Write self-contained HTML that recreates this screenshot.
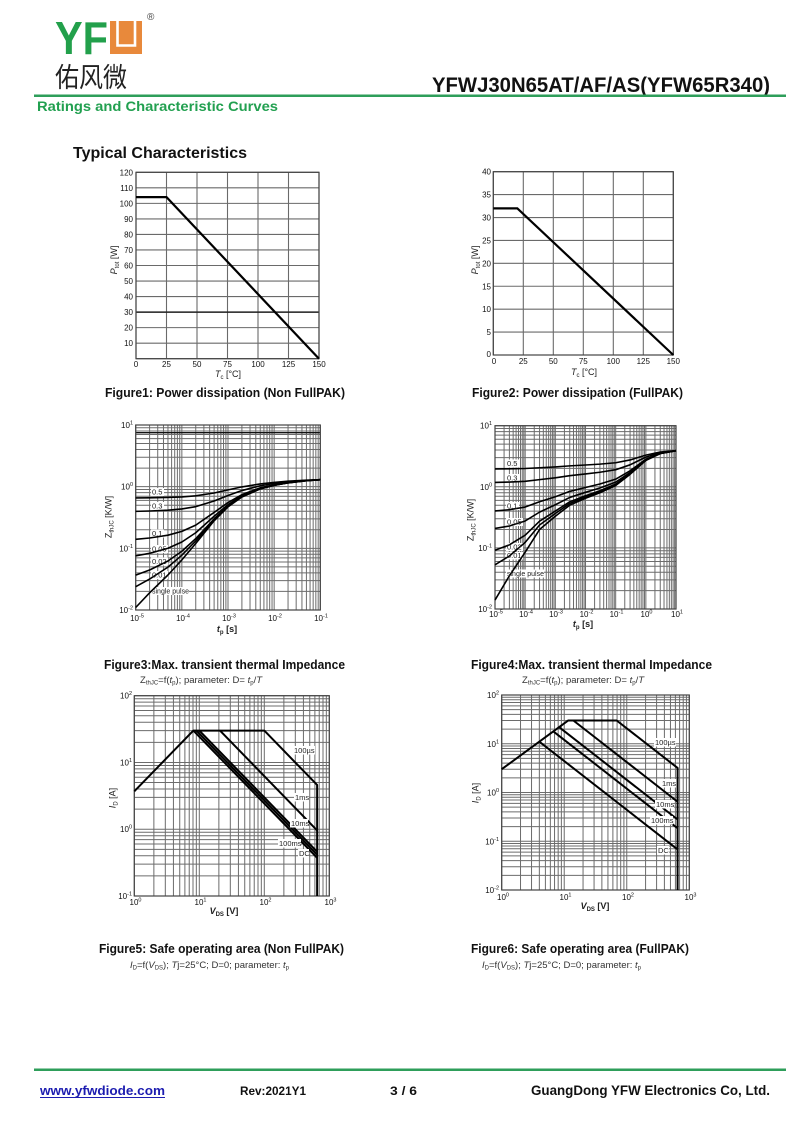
<!DOCTYPE html>
<html><head><meta charset="utf-8"><style>html,body{margin:0;padding:0;background:#fff}svg{display:block}</style></head>
<body>
<svg width="800" height="1131" viewBox="0 0 800 1131" xmlns="http://www.w3.org/2000/svg" font-family="Liberation Sans, Arial, sans-serif">
<rect width="800" height="1131" fill="#fff"/>

<!-- ===== HEADER ===== -->
<text x="55" y="54" font-size="46" font-weight="bold" fill="#22a04b" textLength="53" lengthAdjust="spacingAndGlyphs">YF</text>
<rect x="110" y="21" width="32" height="33" fill="#e8893b"/>
<path d="M117.5,21V45.5H135V21" fill="none" stroke="#fff" stroke-width="2.6"/>
<text x="147" y="20" font-size="10" fill="#444">®</text>
<text x="55" y="87" font-size="27" fill="#222" font-family="Liberation Sans, Noto Sans CJK SC, sans-serif" textLength="72" lengthAdjust="spacingAndGlyphs">佑风微</text>
<text x="432" y="92" font-size="21" font-weight="bold" fill="#111" textLength="338" lengthAdjust="spacingAndGlyphs">YFWJ30N65AT/AF/AS(YFW65R340)</text>
<rect x="34" y="94.5" width="752" height="2.5" fill="#2e9e5a"/>
<text x="37" y="111" font-size="13.5" font-weight="bold" fill="#22a050" textLength="241" lengthAdjust="spacingAndGlyphs">Ratings and Characteristic Curves</text>
<text x="73" y="158" font-size="16" font-weight="bold" fill="#111" textLength="174" lengthAdjust="spacingAndGlyphs">Typical Characteristics</text>

<!-- ===== FIGURE 1 ===== -->
<g fill="none" stroke="#6a6a6a" stroke-width="1.1">
<path d="M136,172.3v186.4m30.5,-186.4v186.4m30.5,-186.4v186.4m30.5,-186.4v186.4m30.5,-186.4v186.4m30.5,-186.4v186.4m30.5,-186.4v186.4"/>
<path d="M136,358.7h183m-183,-15.533h183m-183,-15.533h183m-183,-15.533h183m-183,-15.533h183m-183,-15.533h183m-183,-15.533h183m-183,-15.533h183m-183,-15.533h183m-183,-15.533h183m-183,-15.533h183m-183,-15.533h183m-183,-15.533h183"/>
</g>
<line x1="136" y1="312.1" x2="319" y2="312.1" stroke="#222" stroke-width="1.5"/>
<rect x="136" y="172.3" width="183" height="186.4" fill="none" stroke="#444" stroke-width="1.2"/>
<polyline points="136,197.15 166.5,197.15 319,358.7" fill="none" stroke="#000" stroke-width="2.2"/>
<g font-size="8" fill="#111" text-anchor="end">
<text x="133" y="346.2">10</text><text x="133" y="330.6">20</text><text x="133" y="315.1">30</text><text x="133" y="299.6">40</text><text x="133" y="284">50</text><text x="133" y="268.5">60</text><text x="133" y="253">70</text><text x="133" y="237.4">80</text><text x="133" y="221.9">90</text><text x="133" y="206.4">100</text><text x="133" y="190.8">110</text><text x="133" y="175.3">120</text>
</g>
<g font-size="8" fill="#111" text-anchor="middle">
<text x="136" y="367">0</text><text x="166.5" y="367">25</text><text x="197" y="367">50</text><text x="227.5" y="367">75</text><text x="258" y="367">100</text><text x="288.5" y="367">125</text><text x="319" y="367">150</text>
</g>
<text transform="rotate(-90 117 260)" x="117" y="260" font-size="9" fill="#222" text-anchor="middle"><tspan font-style="italic">P</tspan><tspan font-size="6" dy="2">tot</tspan><tspan dy="-2"> [W]</tspan></text>
<text x="228" y="377" font-size="9" fill="#222" text-anchor="middle"><tspan font-style="italic">T</tspan><tspan font-size="6" dy="2">c</tspan><tspan dy="-2"> [°C]</tspan></text>
<text x="105" y="397" font-size="12.5" font-weight="bold" fill="#111" textLength="240" lengthAdjust="spacingAndGlyphs">Figure1: Power dissipation (Non FullPAK)</text>

<!-- ===== FIGURE 2 ===== -->
<g fill="none" stroke="#6a6a6a" stroke-width="1.1">
<path d="M493.3,171.7v183.3m30,-183.3v183.3m30,-183.3v183.3m30,-183.3v183.3m30,-183.3v183.3m30,-183.3v183.3m30,-183.3v183.3"/>
<path d="M493.3,355h180m-180,-22.9125h180m-180,-22.9125h180m-180,-22.9125h180m-180,-22.9125h180m-180,-22.9125h180m-180,-22.9125h180m-180,-22.9125h180m-180,-22.9125h180"/>
</g>
<rect x="493.3" y="171.7" width="180" height="183.3" fill="none" stroke="#444" stroke-width="1.2"/>
<polyline points="493.3,208.36 517.3,208.36 673.3,355" fill="none" stroke="#000" stroke-width="2.2"/>
<g font-size="8" fill="#111" text-anchor="end">
<text x="491" y="357">0</text><text x="491" y="335.1">5</text><text x="491" y="312.2">10</text><text x="491" y="289.3">15</text><text x="491" y="266.4">20</text><text x="491" y="243.4">25</text><text x="491" y="220.5">30</text><text x="491" y="197.6">35</text><text x="491" y="174.7">40</text>
</g>
<g font-size="8" fill="#111" text-anchor="middle">
<text x="494" y="364">0</text><text x="523.3" y="364">25</text><text x="553.3" y="364">50</text><text x="583.3" y="364">75</text><text x="613.3" y="364">100</text><text x="643.3" y="364">125</text><text x="673.3" y="364">150</text>
</g>
<text transform="rotate(-90 478 260)" x="478" y="260" font-size="9" fill="#222" text-anchor="middle"><tspan font-style="italic">P</tspan><tspan font-size="6" dy="2">tot</tspan><tspan dy="-2"> [W]</tspan></text>
<text x="584" y="375" font-size="9" fill="#222" text-anchor="middle"><tspan font-style="italic">T</tspan><tspan font-size="6" dy="2">c</tspan><tspan dy="-2"> [°C]</tspan></text>
<text x="472" y="397" font-size="12.5" font-weight="bold" fill="#111" textLength="211" lengthAdjust="spacingAndGlyphs">Figure2: Power dissipation (FullPAK)</text>

<!-- ===== FIGURE 3 ===== -->
<g fill="none" stroke="#6c6c6c" stroke-width="1">
<path d="M135.7,425v185m13.893,-185v185m8.127,-185v185m5.766,-185v185m4.472,-185v185m3.654,-185v185m3.09,-185v185m2.676,-185v185m2.361,-185v185m2.112,-185v185m13.893,-185v185m8.127,-185v185m5.766,-185v185m4.472,-185v185m3.654,-185v185m3.09,-185v185m2.676,-185v185m2.361,-185v185m2.112,-185v185m13.893,-185v185m8.127,-185v185m5.766,-185v185m4.472,-185v185m3.654,-185v185m3.09,-185v185m2.676,-185v185m2.361,-185v185m2.112,-185v185m13.893,-185v185m8.127,-185v185m5.766,-185v185m4.472,-185v185m3.654,-185v185m3.09,-185v185m2.676,-185v185m2.361,-185v185m2.112,-185v185"/>
<path d="M135.7,610h184.6m-184.6,-18.565h184.6m-184.6,-10.86h184.6m-184.6,-7.705h184.6m-184.6,-5.976h184.6m-184.6,-4.883h184.6m-184.6,-4.129h184.6m-184.6,-3.576h184.6m-184.6,-3.154h184.6m-184.6,-2.822h184.6m-184.6,-18.565h184.6m-184.6,-10.86h184.6m-184.6,-7.705h184.6m-184.6,-5.976h184.6m-184.6,-4.883h184.6m-184.6,-4.129h184.6m-184.6,-3.576h184.6m-184.6,-3.154h184.6m-184.6,-2.822h184.6m-184.6,-18.565h184.6m-184.6,-10.86h184.6m-184.6,-7.705h184.6m-184.6,-5.976h184.6m-184.6,-4.883h184.6m-184.6,-4.129h184.6m-184.6,-3.576h184.6m-184.6,-3.154h184.6m-184.6,-2.822h184.6"/>
</g>
<line x1="135.7" y1="432.7" x2="320.3" y2="432.7" stroke="#111" stroke-width="1.4"/>
<rect x="135.7" y="425" width="184.6" height="185" fill="none" stroke="#444" stroke-width="1.2"/>
<g fill="#fff">
<rect x="151" y="488" width="13" height="8"/><rect x="151" y="502" width="13" height="8"/><rect x="151" y="529.5" width="13" height="8"/><rect x="151" y="545" width="17" height="8"/><rect x="151" y="557.5" width="17" height="8"/><rect x="151" y="571" width="17" height="8"/><rect x="151" y="587" width="38" height="8"/>
</g>
<g fill="none" stroke="#000" stroke-width="1.6" stroke-linejoin="round">
<polyline points="135.7,497.98 149.6,497.8 167.96,497.45 181.85,496.9 195.74,495.8 214.11,493 228,489.9 241.89,486.9 260.26,483.9 274.15,482.4 288.04,481.2 306.41,480.2 320.3,479.7"/>
<polyline points="135.7,511.37 149.6,511 167.96,510.17 181.85,508.94 195.74,506.67 214.11,500.99 228,495.52 241.89,490.54 260.26,485.77 274.15,483.51 288.04,481.89 306.41,480.37 320.3,479.7"/>
<polyline points="135.7,539.35 149.6,538 167.96,535.2 181.85,531.36 195.74,525.11 214.11,512.44 228,502.54 241.89,494.66 260.26,487.82 274.15,484.73 288.04,482.58 306.41,480.58 320.3,479.7"/>
<polyline points="135.7,555.87 149.6,553.33 167.96,548.28 181.85,541.98 195.74,532.74 214.11,516.28 228,504.63 241.89,495.8 260.26,488.35 274.15,485.05 288.04,482.75 306.41,480.64 320.3,479.7"/>
<polyline points="135.7,575.12 149.6,569.97 167.96,561.01 181.85,551.25 195.74,538.65 214.11,518.88 228,505.96 241.89,496.52 260.26,488.69 274.15,485.23 288.04,482.86 306.41,480.67 320.3,479.7"/>
<polyline points="135.7,586.67 149.6,579.03 167.96,567.12 181.85,555.2 195.74,540.95 214.11,519.81 228,506.42 241.89,496.76 260.26,488.79 274.15,485.3 288.04,482.89 306.41,480.68 320.3,479.7"/>
<polyline points="135.7,607.5 149.6,592.8 167.96,575 181.85,559.9 195.74,543.5 214.11,520.8 228,506.9 241.89,497 260.26,488.9 274.15,485.4 288.04,482.9 306.41,480.7 320.3,479.7"/>
</g>
<g font-size="7.5" fill="#222">
<text x="152" y="494.5">0.5</text><text x="152" y="508.5">0.3</text><text x="152" y="536">0.1</text><text x="152" y="551.5">0.05</text><text x="152" y="564">0.02</text><text x="152" y="577.5">0.01</text><text x="152" y="593.5" font-size="7">single pulse</text>
</g>
<g font-size="8" fill="#111" text-anchor="end">
<text x="133" y="428">10<tspan font-size="5.5" dy="-3.5">1</tspan></text>
<text x="133" y="489.7">10<tspan font-size="5.5" dy="-3.5">0</tspan></text>
<text x="133" y="551.3">10<tspan font-size="5.5" dy="-3.5">-1</tspan></text>
<text x="133" y="613">10<tspan font-size="5.5" dy="-3.5">-2</tspan></text>
</g>
<g font-size="8" fill="#111" text-anchor="middle">
<text x="137" y="621">10<tspan font-size="5.5" dy="-3.5">-5</tspan></text>
<text x="183" y="621">10<tspan font-size="5.5" dy="-3.5">-4</tspan></text>
<text x="229" y="621">10<tspan font-size="5.5" dy="-3.5">-3</tspan></text>
<text x="275" y="621">10<tspan font-size="5.5" dy="-3.5">-2</tspan></text>
<text x="321" y="621">10<tspan font-size="5.5" dy="-3.5">-1</tspan></text>
</g>
<text transform="rotate(-90 111.5 517)" x="111.5" y="517" font-size="9" fill="#222" text-anchor="middle">Z<tspan font-size="6" dy="2">thJC</tspan><tspan dy="-2"> [K/W]</tspan></text>
<text x="227" y="632" font-size="9" fill="#222" text-anchor="middle" font-weight="bold"><tspan font-style="italic">t</tspan><tspan font-size="6" dy="2">p</tspan><tspan dy="-2"> [s]</tspan></text>
<text x="104" y="669" font-size="12.5" font-weight="bold" fill="#111" textLength="241" lengthAdjust="spacingAndGlyphs">Figure3:Max. transient thermal Impedance</text>
<text x="140" y="683" font-size="9.5" fill="#333">Z<tspan font-size="6" dy="1.5">thJC</tspan><tspan dy="-1.5">=f(</tspan><tspan font-style="italic">t</tspan><tspan font-size="6" dy="1.5">p</tspan><tspan dy="-1.5">); parameter: D= </tspan><tspan font-style="italic">t</tspan><tspan font-size="6" dy="1.5">p</tspan><tspan dy="-1.5">/</tspan><tspan font-style="italic">T</tspan></text>

<!-- ===== FIGURE 4 ===== -->
<g fill="none" stroke="#6c6c6c" stroke-width="1">
<path d="M495,425.7v183.3m9.082,-183.3v183.3m5.313,-183.3v183.3m3.769,-183.3v183.3m2.924,-183.3v183.3m2.389,-183.3v183.3m2.02,-183.3v183.3m1.75,-183.3v183.3m1.543,-183.3v183.3m1.381,-183.3v183.3m9.082,-183.3v183.3m5.313,-183.3v183.3m3.769,-183.3v183.3m2.924,-183.3v183.3m2.389,-183.3v183.3m2.02,-183.3v183.3m1.75,-183.3v183.3m1.543,-183.3v183.3m1.381,-183.3v183.3m9.082,-183.3v183.3m5.313,-183.3v183.3m3.769,-183.3v183.3m2.924,-183.3v183.3m2.389,-183.3v183.3m2.02,-183.3v183.3m1.75,-183.3v183.3m1.543,-183.3v183.3m1.381,-183.3v183.3m9.082,-183.3v183.3m5.313,-183.3v183.3m3.769,-183.3v183.3m2.924,-183.3v183.3m2.389,-183.3v183.3m2.02,-183.3v183.3m1.75,-183.3v183.3m1.543,-183.3v183.3m1.381,-183.3v183.3m9.082,-183.3v183.3m5.313,-183.3v183.3m3.769,-183.3v183.3m2.924,-183.3v183.3m2.389,-183.3v183.3m2.02,-183.3v183.3m1.75,-183.3v183.3m1.543,-183.3v183.3m1.381,-183.3v183.3m9.082,-183.3v183.3m5.313,-183.3v183.3m3.769,-183.3v183.3m2.924,-183.3v183.3m2.389,-183.3v183.3m2.02,-183.3v183.3m1.75,-183.3v183.3m1.543,-183.3v183.3m1.381,-183.3v183.3"/>
<path d="M495,609h181m-181,-18.393h181m-181,-10.759h181m-181,-7.634h181m-181,-5.921h181m-181,-4.838h181m-181,-4.091h181m-181,-3.543h181m-181,-3.125h181m-181,-2.796h181m-181,-18.393h181m-181,-10.759h181m-181,-7.634h181m-181,-5.921h181m-181,-4.838h181m-181,-4.091h181m-181,-3.543h181m-181,-3.125h181m-181,-2.796h181m-181,-18.393h181m-181,-10.759h181m-181,-7.634h181m-181,-5.921h181m-181,-4.838h181m-181,-4.091h181m-181,-3.543h181m-181,-3.125h181m-181,-2.796h181"/>
</g>
<rect x="495" y="425.7" width="181" height="183.3" fill="none" stroke="#444" stroke-width="1.2"/>
<g fill="#fff">
<rect x="506" y="459.5" width="13" height="8"/><rect x="506" y="474" width="13" height="8"/><rect x="506" y="502" width="13" height="8"/><rect x="506" y="518" width="17" height="8"/><rect x="506" y="543" width="17" height="8"/><rect x="506" y="552" width="17" height="7.5"/><rect x="506" y="569.5" width="38" height="8"/>
</g>
<g fill="none" stroke="#000" stroke-width="1.6" stroke-linejoin="round">
<polyline points="495,468.98 509.39,468.84 525.17,468.51 539.56,467.75 555.34,466.92 569.73,465.88 585.51,464.99 599.9,464.13 615.68,462.75 630.07,459.96 645.85,455.12 660.24,452.08 676,450.68"/>
<polyline points="495,482.41 509.39,482.08 525.17,481.32 539.56,479.63 555.34,477.85 569.73,475.69 585.51,473.91 599.9,472.26 615.68,469.7 630.07,464.82 645.85,457.12 660.24,452.66 676,450.68"/>
<polyline points="495,510.94 509.39,509.72 525.17,507.04 539.56,501.71 555.34,496.76 569.73,491.43 585.51,487.47 599.9,484.03 615.68,479.13 630.07,470.76 645.85,459.29 660.24,453.26 676,450.68"/>
<polyline points="495,528.43 509.39,526 525.17,520.98 539.56,512.13 555.34,504.74 569.73,497.43 585.51,492.31 599.9,488.02 615.68,482.13 630.07,472.48 645.85,459.86 660.24,453.41 676,450.68"/>
<polyline points="495,550.2 509.39,544.83 525.17,535.22 539.56,521.15 555.34,511.02 569.73,501.81 585.51,495.7 599.9,490.74 615.68,484.11 630.07,473.58 645.85,460.21 660.24,453.49 676,450.68"/>
<polyline points="495,564.79 509.39,556 525.17,542.36 539.56,525.01 555.34,513.49 569.73,503.45 585.51,496.94 599.9,491.71 615.68,484.8 630.07,473.95 645.85,460.33 660.24,453.52 676,450.68"/>
<polyline points="495,600.07 509.39,575.76 525.17,552.21 539.56,529.51 555.34,516.22 569.73,505.19 585.51,498.23 599.9,492.72 615.68,485.5 630.07,474.33 645.85,460.44 660.24,453.56 676,450.68"/>
</g>
<g font-size="7.5" fill="#222">
<text x="507" y="466">0.5</text><text x="507" y="480.5">0.3</text><text x="507" y="508.5">0.1</text><text x="507" y="524.5">0.05</text><text x="507" y="549.5">0.02</text><text x="507" y="558">0.01</text><text x="507" y="576" font-size="7">single pulse</text>
</g>
<g font-size="8" fill="#111" text-anchor="end">
<text x="492" y="428.7">10<tspan font-size="5.5" dy="-3.5">1</tspan></text>
<text x="492" y="489.8">10<tspan font-size="5.5" dy="-3.5">0</tspan></text>
<text x="492" y="550.9">10<tspan font-size="5.5" dy="-3.5">-1</tspan></text>
<text x="492" y="612">10<tspan font-size="5.5" dy="-3.5">-2</tspan></text>
</g>
<g font-size="8" fill="#111" text-anchor="middle">
<text x="496" y="617">10<tspan font-size="5.5" dy="-3.5">-5</tspan></text>
<text x="526" y="617">10<tspan font-size="5.5" dy="-3.5">-4</tspan></text>
<text x="556" y="617">10<tspan font-size="5.5" dy="-3.5">-3</tspan></text>
<text x="586.5" y="617">10<tspan font-size="5.5" dy="-3.5">-2</tspan></text>
<text x="616.5" y="617">10<tspan font-size="5.5" dy="-3.5">-1</tspan></text>
<text x="646.5" y="617">10<tspan font-size="5.5" dy="-3.5">0</tspan></text>
<text x="677" y="617">10<tspan font-size="5.5" dy="-3.5">1</tspan></text>
</g>
<text transform="rotate(-90 473.5 520)" x="473.5" y="520" font-size="9" fill="#222" text-anchor="middle">Z<tspan font-size="6" dy="2">thJC</tspan><tspan dy="-2"> [K/W]</tspan></text>
<text x="583" y="627" font-size="9" fill="#222" text-anchor="middle" font-weight="bold"><tspan font-style="italic">t</tspan><tspan font-size="6" dy="2">p</tspan><tspan dy="-2"> [s]</tspan></text>
<text x="471" y="669" font-size="12.5" font-weight="bold" fill="#111" textLength="241" lengthAdjust="spacingAndGlyphs">Figure4:Max. transient thermal Impedance</text>
<text x="522" y="683" font-size="9.5" fill="#333">Z<tspan font-size="6" dy="1.5">thJC</tspan><tspan dy="-1.5">=f(</tspan><tspan font-style="italic">t</tspan><tspan font-size="6" dy="1.5">p</tspan><tspan dy="-1.5">); parameter: D= </tspan><tspan font-style="italic">t</tspan><tspan font-size="6" dy="1.5">p</tspan><tspan dy="-1.5">/</tspan><tspan font-style="italic">T</tspan></text>

<!-- ===== FIGURE 5 ===== -->
<g fill="none" stroke="#6c6c6c" stroke-width="1">
<path d="M134.3,695.7v200.3m19.567,-200.3v200.3m11.446,-200.3v200.3m8.121,-200.3v200.3m6.299,-200.3v200.3m5.147,-200.3v200.3m4.352,-200.3v200.3m3.769,-200.3v200.3m3.325,-200.3v200.3m2.974,-200.3v200.3m19.567,-200.3v200.3m11.446,-200.3v200.3m8.121,-200.3v200.3m6.299,-200.3v200.3m5.147,-200.3v200.3m4.352,-200.3v200.3m3.769,-200.3v200.3m3.325,-200.3v200.3m2.974,-200.3v200.3m19.567,-200.3v200.3m11.446,-200.3v200.3m8.121,-200.3v200.3m6.299,-200.3v200.3m5.147,-200.3v200.3m4.352,-200.3v200.3m3.769,-200.3v200.3m3.325,-200.3v200.3m2.974,-200.3v200.3"/>
<path d="M134.3,896h195m-195,-20.1h195m-195,-11.758h195m-195,-8.342h195m-195,-6.471h195m-195,-5.287h195m-195,-4.47h195m-195,-3.872h195m-195,-3.415h195m-195,-3.055h195m-195,-20.1h195m-195,-11.758h195m-195,-8.342h195m-195,-6.471h195m-195,-5.287h195m-195,-4.47h195m-195,-3.872h195m-195,-3.415h195m-195,-3.055h195m-195,-20.1h195m-195,-11.758h195m-195,-8.342h195m-195,-6.471h195m-195,-5.287h195m-195,-4.47h195m-195,-3.872h195m-195,-3.415h195m-195,-3.055h195"/>
</g>
<rect x="134.3" y="695.7" width="195" height="200.3" fill="none" stroke="#444" stroke-width="1.2"/>
<g fill="none" stroke="#000" stroke-width="2" stroke-linejoin="round">
<polyline points="134.3,791.3 193.35,730.61 264.3,730.61 317.14,784.98 317.14,896"/>
<polyline points="219.98,730.61 317.14,830.42"/>
<polyline points="199.3,730.61 317.14,851.65"/>
<polyline points="196.33,730.61 317.14,854.72"/>
<polyline points="193.35,730.61 317.14,857.76"/>
</g>
<g fill="#fff">
<rect x="293" y="746" width="22" height="8.5"/><rect x="294" y="793" width="15" height="8.5"/><rect x="290" y="819" width="18" height="8.5"/><rect x="278" y="839" width="23" height="8.5"/><rect x="298" y="849" width="11" height="8.5"/>
</g>
<g font-size="7.5" fill="#222">
<text x="294" y="753">100µs</text><text x="295" y="800">1ms</text><text x="291" y="826">10ms</text><text x="279" y="846">100ms</text><text x="299" y="856">DC</text>
</g>
<g font-size="8" fill="#111" text-anchor="end">
<text x="132" y="698.7">10<tspan font-size="5.5" dy="-3.5">2</tspan></text>
<text x="132" y="765.5">10<tspan font-size="5.5" dy="-3.5">1</tspan></text>
<text x="132" y="832.2">10<tspan font-size="5.5" dy="-3.5">0</tspan></text>
<text x="132" y="899">10<tspan font-size="5.5" dy="-3.5">-1</tspan></text>
</g>
<g font-size="8" fill="#111" text-anchor="middle">
<text x="135.5" y="905">10<tspan font-size="5.5" dy="-3.5">0</tspan></text>
<text x="200.5" y="905">10<tspan font-size="5.5" dy="-3.5">1</tspan></text>
<text x="265.5" y="905">10<tspan font-size="5.5" dy="-3.5">2</tspan></text>
<text x="330.5" y="905">10<tspan font-size="5.5" dy="-3.5">3</tspan></text>
</g>
<text transform="rotate(-90 115.5 798)" x="115.5" y="798" font-size="9" fill="#222" text-anchor="middle"><tspan font-style="italic">I</tspan><tspan font-size="6" dy="2">D</tspan><tspan dy="-2"> [A]</tspan></text>
<text x="224" y="914" font-size="9" fill="#222" text-anchor="middle" font-weight="bold"><tspan font-style="italic">V</tspan><tspan font-size="6" dy="2">DS</tspan><tspan dy="-2"> [V]</tspan></text>
<text x="99" y="953" font-size="12.5" font-weight="bold" fill="#111" textLength="245" lengthAdjust="spacingAndGlyphs">Figure5: Safe operating area (Non FullPAK)</text>
<text x="130" y="968" font-size="9.5" fill="#333"><tspan font-style="italic">I</tspan><tspan font-size="6" dy="1.5">D</tspan><tspan dy="-1.5">=f(</tspan><tspan font-style="italic">V</tspan><tspan font-size="6" dy="1.5">DS</tspan><tspan dy="-1.5">); </tspan><tspan font-style="italic">T</tspan>j=25°C; D=0; parameter: <tspan font-style="italic">t</tspan><tspan font-size="6" dy="1.5">p</tspan></text>

<!-- ===== FIGURE 6 ===== -->
<g fill="none" stroke="#6c6c6c" stroke-width="1">
<path d="M501.7,695v195m18.823,-195v195m11.011,-195v195m7.812,-195v195m6.06,-195v195m4.951,-195v195m4.186,-195v195m3.626,-195v195m3.198,-195v195m2.861,-195v195m18.823,-195v195m11.011,-195v195m7.812,-195v195m6.06,-195v195m4.951,-195v195m4.186,-195v195m3.626,-195v195m3.198,-195v195m2.861,-195v195m18.823,-195v195m11.011,-195v195m7.812,-195v195m6.06,-195v195m4.951,-195v195m4.186,-195v195m3.626,-195v195m3.198,-195v195m2.861,-195v195"/>
<path d="M501.7,890h187.6m-187.6,-14.675h187.6m-187.6,-8.584h187.6m-187.6,-6.091h187.6m-187.6,-4.724h187.6m-187.6,-3.86h187.6m-187.6,-3.264h187.6m-187.6,-2.827h187.6m-187.6,-2.494h187.6m-187.6,-2.231h187.6m-187.6,-14.675h187.6m-187.6,-8.584h187.6m-187.6,-6.091h187.6m-187.6,-4.724h187.6m-187.6,-3.86h187.6m-187.6,-3.264h187.6m-187.6,-2.827h187.6m-187.6,-2.494h187.6m-187.6,-2.231h187.6m-187.6,-14.675h187.6m-187.6,-8.584h187.6m-187.6,-6.091h187.6m-187.6,-4.724h187.6m-187.6,-3.86h187.6m-187.6,-3.264h187.6m-187.6,-2.827h187.6m-187.6,-2.494h187.6m-187.6,-2.231h187.6m-187.6,-14.675h187.6m-187.6,-8.584h187.6m-187.6,-6.091h187.6m-187.6,-4.724h187.6m-187.6,-3.86h187.6m-187.6,-3.264h187.6m-187.6,-2.827h187.6m-187.6,-2.494h187.6m-187.6,-2.231h187.6"/>
</g>
<rect x="501.7" y="695" width="187.6" height="195" fill="none" stroke="#444" stroke-width="1.2"/>
<g fill="none" stroke="#000" stroke-width="2" stroke-linejoin="round">
<polyline points="501.7,769.24 568.26,720.49 616.68,720.49 677.59,767.97 677.59,890"/>
<polyline points="573.37,720.49 677.59,801.75"/>
<polyline points="559.17,727.15 677.59,819.48"/>
<polyline points="553.36,731.4 677.59,828.26"/>
<polyline points="539.34,741.67 677.59,849.44"/>
</g>
<g fill="#fff">
<rect x="654" y="738" width="22" height="8.5"/><rect x="661" y="779" width="15" height="8.5"/><rect x="655" y="800" width="19" height="8.5"/><rect x="650" y="816" width="23" height="8.5"/><rect x="657" y="846" width="12" height="8.5"/>
</g>
<g font-size="7.5" fill="#222">
<text x="655" y="745">100µs</text><text x="662" y="786">1ms</text><text x="656" y="807">10ms</text><text x="651" y="823">100ms</text><text x="658" y="853">DC</text>
</g>
<g font-size="8" fill="#111" text-anchor="end">
<text x="499" y="698">10<tspan font-size="5.5" dy="-3.5">2</tspan></text>
<text x="499" y="746.8">10<tspan font-size="5.5" dy="-3.5">1</tspan></text>
<text x="499" y="795.5">10<tspan font-size="5.5" dy="-3.5">0</tspan></text>
<text x="499" y="844.3">10<tspan font-size="5.5" dy="-3.5">-1</tspan></text>
<text x="499" y="893">10<tspan font-size="5.5" dy="-3.5">-2</tspan></text>
</g>
<g font-size="8" fill="#111" text-anchor="middle">
<text x="503" y="900">10<tspan font-size="5.5" dy="-3.5">0</tspan></text>
<text x="565.5" y="900">10<tspan font-size="5.5" dy="-3.5">1</tspan></text>
<text x="628" y="900">10<tspan font-size="5.5" dy="-3.5">2</tspan></text>
<text x="690.5" y="900">10<tspan font-size="5.5" dy="-3.5">3</tspan></text>
</g>
<text transform="rotate(-90 478.5 793)" x="478.5" y="793" font-size="9" fill="#222" text-anchor="middle"><tspan font-style="italic">I</tspan><tspan font-size="6" dy="2">D</tspan><tspan dy="-2"> [A]</tspan></text>
<text x="595" y="909" font-size="9" fill="#222" text-anchor="middle" font-weight="bold"><tspan font-style="italic">V</tspan><tspan font-size="6" dy="2">DS</tspan><tspan dy="-2"> [V]</tspan></text>
<text x="471" y="953" font-size="12.5" font-weight="bold" fill="#111" textLength="218" lengthAdjust="spacingAndGlyphs">Figure6: Safe operating area (FullPAK)</text>
<text x="482" y="968" font-size="9.5" fill="#333"><tspan font-style="italic">I</tspan><tspan font-size="6" dy="1.5">D</tspan><tspan dy="-1.5">=f(</tspan><tspan font-style="italic">V</tspan><tspan font-size="6" dy="1.5">DS</tspan><tspan dy="-1.5">); </tspan><tspan font-style="italic">T</tspan>j=25°C; D=0; parameter: <tspan font-style="italic">t</tspan><tspan font-size="6" dy="1.5">p</tspan></text>

<!-- ===== FOOTER ===== -->
<rect x="34" y="1068.5" width="752" height="2.5" fill="#2e9e5a"/>
<text x="40" y="1095" font-size="13" font-weight="bold" fill="#1c1cb0" textLength="125" lengthAdjust="spacingAndGlyphs">www.yfwdiode.com</text>
<line x1="40" y1="1097.5" x2="165" y2="1097.5" stroke="#1c1cb0" stroke-width="1"/>
<text x="240" y="1095" font-size="12" font-weight="bold" fill="#111" textLength="66" lengthAdjust="spacingAndGlyphs">Rev:2021Y1</text>
<text x="390" y="1095" font-size="12" font-weight="bold" fill="#111" textLength="27" lengthAdjust="spacingAndGlyphs">3 / 6</text>
<text x="531" y="1095" font-size="13.5" font-weight="bold" fill="#111" textLength="239" lengthAdjust="spacingAndGlyphs">GuangDong YFW Electronics Co, Ltd.</text>
</svg>
</body></html>
